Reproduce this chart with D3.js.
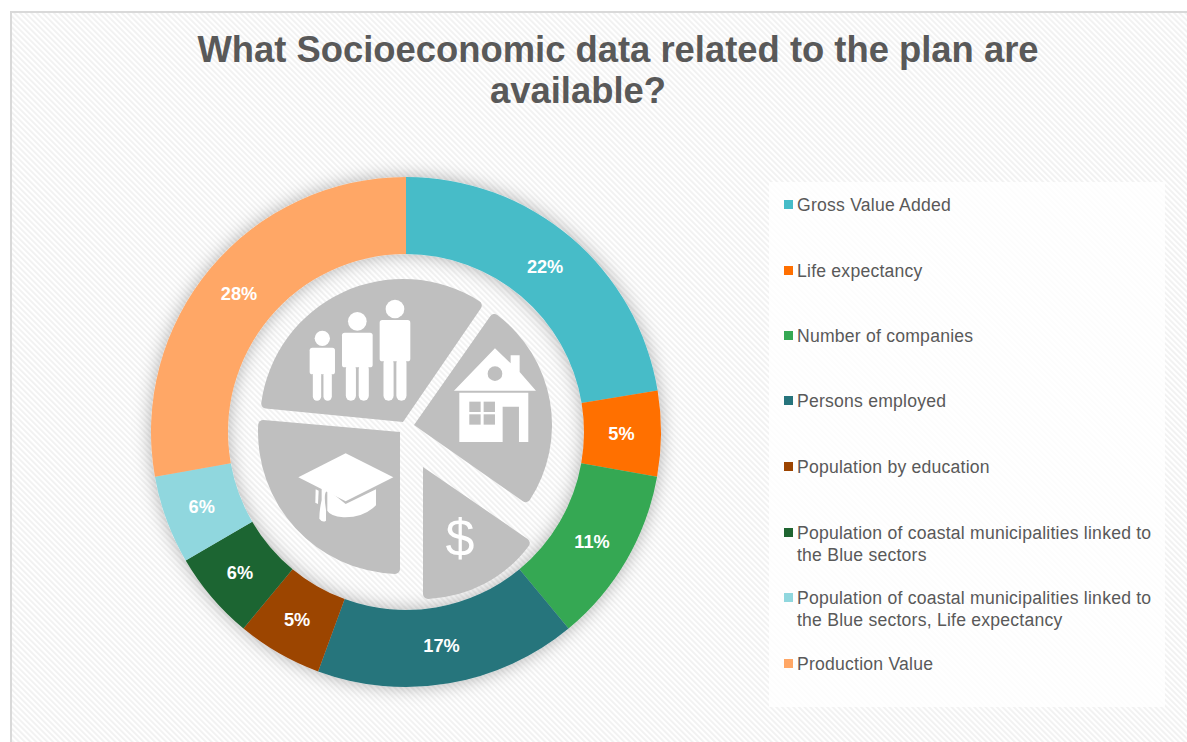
<!DOCTYPE html>
<html><head><meta charset="utf-8">
<script src="https://cdn.jsdelivr.net/npm/d3@7"></script>
<style>html,body{margin:0;padding:0;background:#fff}svg{display:block}text{font-family:"Liberation Sans",Arial,sans-serif}</style>
</head><body><div id="chart"></div>
<script>
const titleLines = ["What Socioeconomic data related to the plan are", "available?"];
const titleCentres = [618,578];
const categories = ["Gross Value Added","Life expectancy","Number of companies","Persons employed","Population by education","Population of coastal municipalities linked to the Blue sectors","Population of coastal municipalities linked to the Blue sectors, Life expectancy","Production Value"];
const values = [22.4,5.4,11.2,16.6,5.4,5.6,5.6,27.8];
const colors = ["#46bcc8","#ff6f00","#35a853","#26747c","#9c4400","#1f6531","#90d7de","#ffa766"];
const legendRowCentres = [205,271,336,401,467,533,598,664];
const iconSlices = [
 {x:403,y:422,r:143,a0:275.6,a1:394.4},
 {x:414,y:425,r:138,a0:35,a1:125},
 {x:423,y:467,r:132,a0:124.5,a1:180},
 {x:400,y:432,r:142,a0:180,a1:275}
];
const W=1187,H=742,cx=406,cy=432,R=255,r0=178;
const svg=d3.select("#chart").append("svg").attr("width",W).attr("height",H);
const defs=svg.append("defs");
const pat=defs.append("pattern").attr("id","hatch").attr("patternUnits","userSpaceOnUse").attr("width",4).attr("height",4).attr("patternTransform","rotate(-45)");
pat.append("rect").attr("width",4).attr("height",4).attr("fill","#ffffff");
pat.append("rect").attr("width",1.8).attr("height",4).attr("fill","#f1f1f1");
const f=defs.append("filter").attr("id","glow").attr("x","-20%").attr("y","-20%").attr("width","140%").attr("height","140%");
f.append("feDropShadow").attr("dx",0).attr("dy",0).attr("stdDeviation",9).attr("flood-color","#000").attr("flood-opacity",0.3);

svg.append("rect").attr("x",11).attr("y",12).attr("width",W+20).attr("height",H+20).attr("fill","url(#hatch)").attr("stroke","#d9d9d9").attr("stroke-width",2);

svg.append("g").selectAll("text").data(titleLines).join("text")
 .attr("x",(d,i)=>titleCentres[i]).attr("y",(d,i)=>62+i*41).attr("text-anchor","middle")
 .attr("font-size",36.4).attr("font-weight","bold").attr("fill","#595959").text(d=>d);

// donut
const pie=d3.pie().sort(null).value(d=>d);
const arc=d3.arc().innerRadius(r0).outerRadius(R);
const ring=svg.append("g").attr("transform",`translate(${cx},${cy})`);
const arcs=pie(values);
ring.append("g").attr("filter","url(#glow)").selectAll("path").data(arcs).join("path")
 .attr("d",arc).attr("fill",(d,i)=>colors[i]);
ring.append("g").selectAll("text").data(arcs).join("text")
 .attr("transform",d=>`translate(${arc.centroid(d)})`).attr("text-anchor","middle").attr("dy","0.36em").attr("dx",-1)
 .attr("font-size",18.2).attr("font-weight","bold").attr("fill","#fff")
 .text(d=>Math.round(d.data)+"%");

// centre icon slices
const rad=d3.scaleLinear().domain([0,180]).range([0,Math.PI]);
const iconArc=d3.arc().innerRadius(0).cornerRadius(5).outerRadius(d=>d.r).startAngle(d=>rad(d.a0)).endAngle(d=>rad(d.a1));
svg.append("g").selectAll("path").data(iconSlices).join("path")
 .attr("transform",d=>`translate(${d.x},${d.y})`).attr("d",iconArc).attr("fill","#bfbfbf");

// pictograms, drawn in the 3x crop space
const ic=svg.append("g").attr("transform","translate(230,280) scale(0.3333)").attr("fill","#fff");
function person(x,headY,headR,bw,top,bodyH,bottom){
 ic.append("circle").attr("cx",x).attr("cy",headY).attr("r",headR);
 ic.append("rect").attr("x",x-bw/2).attr("y",top).attr("width",bw).attr("height",bodyH).attr("rx",8);
 const lw=bw*0.33;
 [-1,1].forEach(s=>ic.append("rect").attr("x",x+s*(bw*0.21)-lw/2).attr("y",top+bodyH-10).attr("width",lw).attr("height",bottom-top-bodyH+10).attr("rx",lw/2));
}
person(277,175,23,76,203,80,362);
person(382,124,28,92,158,104,362);
person(495,87,28,92,120,124,362);
// house
ic.append("path").attr("d","M795 205L842 250V226H869V276L918 332H672Z");
ic.append("circle").attr("cx",795).attr("cy",281).attr("r",22).attr("fill","#bfbfbf");
ic.append("path").attr("d","M688 338H895V486H867V380H818V486H688Z");
ic.append("g").attr("fill","#bfbfbf").selectAll("rect").data([[718,365],[761,365],[718,403],[761,403]]).join("rect")
 .attr("x",d=>d[0]).attr("y",d=>d[1]).attr("width",34).attr("height",31);
// cap
ic.append("path").attr("d","M347 520L490 592L347 664L205 592Z");
ic.append("path").attr("d","M292 628L347 672L438 628V676Q400 714 340 712Q300 708 292 692Z");
ic.append("path").attr("d","M275 628L345 585Q362 582 358 594L290 634Q280 640 288 690L288 722Q278 730 268 716Q268 690 275 660Z");
ic.append("path").attr("d","M257 628L266 632L264 672L256 668Z");
// dollar
ic.append("text").attr("x",690).attr("y",828).attr("text-anchor","middle").attr("font-size",156).style("font-family","'Liberation Sans'").text("$");

// legend
svg.append("rect").attr("x",769).attr("y",182).attr("width",396).attr("height",525).attr("fill","#fff").attr("fill-opacity",0.8);
const leg=svg.append("g").selectAll("g").data(categories).join("g").attr("transform",(d,i)=>`translate(784,${legendRowCentres[i]})`);
leg.append("rect").attr("y",-5).attr("width",9).attr("height",9).attr("fill",(d,i)=>colors[i]);
leg.each(function(d){
 const g=d3.select(this);
 const t=g.append("text").attr("x",13).attr("y",6).attr("font-size",17.6).attr("letter-spacing",0.22).attr("fill","#595959");
 let line=[],ts=t.append("tspan").attr("x",13).attr("dy",0);
 d.split(" ").forEach(w=>{
   line.push(w);ts.text(line.join(" "));
   if(ts.node().getComputedTextLength()>362){
     line.pop();ts.text(line.join(" "));line=[w];
     ts=t.append("tspan").attr("x",13).attr("dy",21.5).text(w);
   }
 });
});
</script></body></html>
